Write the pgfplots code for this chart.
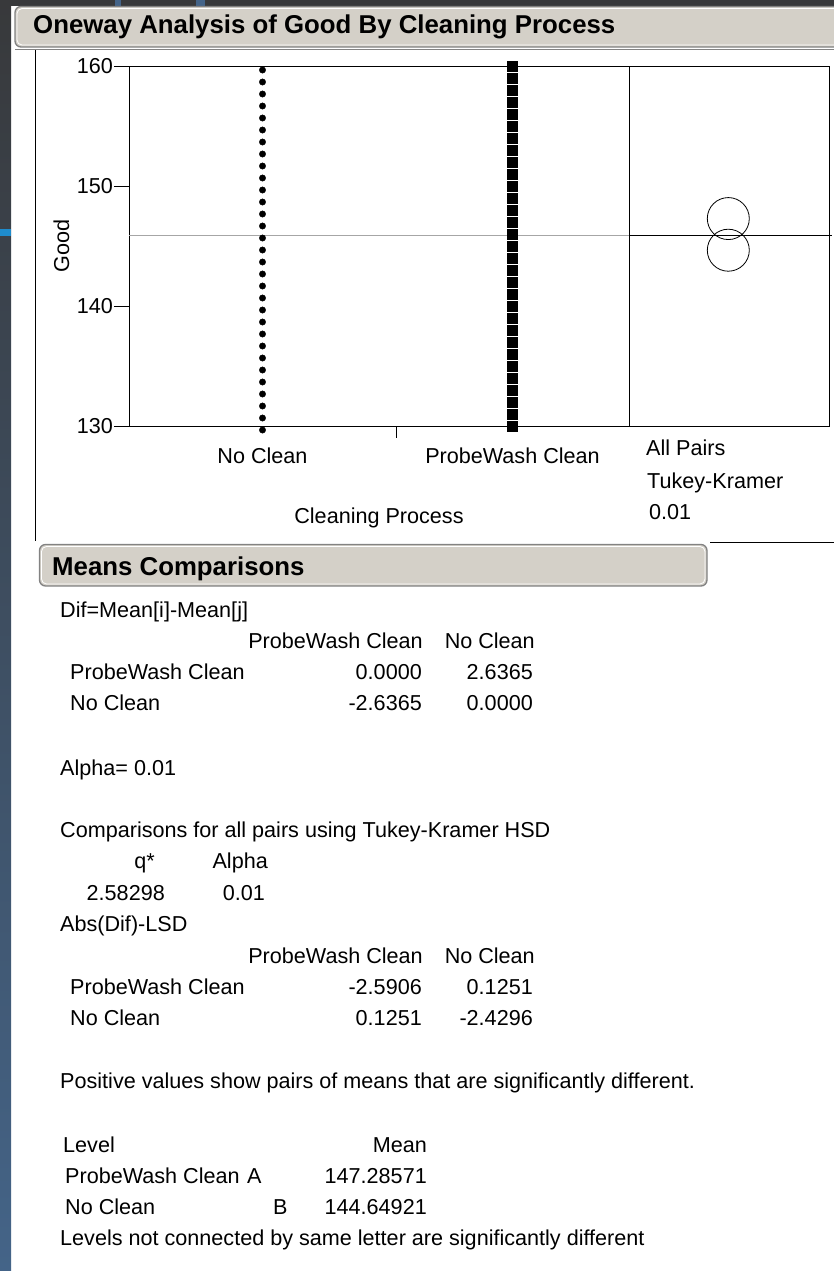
\documentclass[border=0pt]{standalone}
\usepackage{pgfplots}
\pgfplotsset{compat=1.18}
\usepackage{fontspec}
\setmainfont{Liberation Sans}
\definecolor{barfill}{RGB}{212,208,200}
\definecolor{barline}{RGB}{130,130,130}
\definecolor{darkbg}{RGB}{56,57,59}
\definecolor{bluebg}{RGB}{68,100,136}
\definecolor{brightblue}{RGB}{30,140,205}
\newcommand\tf{\fontsize{21.6bp}{26bp}\selectfont}
\newcommand\hf{\fontsize{25.8bp}{30bp}\selectfont\bfseries}
\begin{document}
\begin{tikzpicture}
\begin{scope}[x=1bp,y=-1bp]
\fill[white] (0,0) rectangle (834,1271);
\shade[top color=darkbg, bottom color=bluebg] (0,0) rectangle (11,1271);
\fill[brightblue] (0,229) rectangle (11,236);
\fill[darkbg] (0,0) rectangle (834,6);
\fill[bluebg] (115,0) rectangle (121,6);
\fill[bluebg] (196,0) rectangle (205,6);
% header bar 1
\draw[barline, fill=barfill, rounded corners=6bp, line width=1.3bp] (15,6.5) rectangle (860,47);
\draw[white, rounded corners=5bp, line width=0.8bp] (17,8.5) rectangle (860,45);
\draw[barline, line width=0.8bp] (15,49.5) -- (834,49.5);
\node[anchor=base west, inner sep=0pt, font=\hf] at (33,33.5) {Oneway Analysis of Good By Cleaning Process};
% frame lines
\draw[black, line width=1bp] (35.5,50) -- (35.5,541);
\draw[black, line width=1bp] (710,542.7) -- (834,542.7);
% right panel labels
\node[anchor=base west, inner sep=0pt, font=\tf] at (646,455) {All Pairs};
\node[anchor=base west, inner sep=0pt, font=\tf] at (647,488) {Tukey-Kramer};
\node[anchor=base west, inner sep=0pt, font=\tf] at (649,519) {0.01};
% header bar 2
\draw[barline, fill=barfill, rounded corners=6bp, line width=1.3bp] (39.5,544.5) rectangle (707,586);
\draw[white, rounded corners=5bp, line width=0.8bp] (41.5,546.5) rectangle (705,584);
\node[anchor=base west, inner sep=0pt, font=\hf] at (52,575) {Means Comparisons};
% Means comparisons text
\begin{scope}[every node/.style={inner sep=0pt, font=\tf}]
\node[anchor=base west] at (60,617.7) {Dif=Mean[i]-Mean[j]};
\node[anchor=base east] at (423,648.7) {ProbeWash Clean};
\node[anchor=base east] at (535,648.7) {No Clean};
\node[anchor=base west] at (70,679.7) {ProbeWash Clean};
\node[anchor=base east] at (422,679.7) {0.0000};
\node[anchor=base east] at (533,679.7) {2.6365};
\node[anchor=base west] at (70,710.7) {No Clean};
\node[anchor=base east] at (422,710.7) {-2.6365};
\node[anchor=base east] at (533,710.7) {0.0000};
\node[anchor=base west] at (60,775) {Alpha= 0.01};
\node[anchor=base west] at (60,837.5) {Comparisons for all pairs using Tukey-Kramer HSD};
\node[anchor=base east] at (155,868.7) {q*};
\node[anchor=base east] at (268,868.7) {Alpha};
\node[anchor=base east] at (165,900.7) {2.58298};
\node[anchor=base east] at (265,900.7) {0.01};
\node[anchor=base west] at (60,931.7) {Abs(Dif)-LSD};
\node[anchor=base east] at (423,963.7) {ProbeWash Clean};
\node[anchor=base east] at (535,963.7) {No Clean};
\node[anchor=base west] at (70,994.7) {ProbeWash Clean};
\node[anchor=base east] at (422,994.7) {-2.5906};
\node[anchor=base east] at (533,994.7) {0.1251};
\node[anchor=base west] at (70,1025.7) {No Clean};
\node[anchor=base east] at (422,1025.7) {0.1251};
\node[anchor=base east] at (533,1025.7) {-2.4296};
\node[anchor=base west] at (60,1088.7) {Positive values show pairs of means that are significantly different.};
\node[anchor=base west] at (63,1152.7) {Level};
\node[anchor=base east] at (427,1152.7) {Mean};
\node[anchor=base west] at (65,1183.7) {ProbeWash Clean};
\node[anchor=base west] at (247,1183.7) {A};
\node[anchor=base east] at (427,1183.7) {147.28571};
\node[anchor=base west] at (65,1214.7) {No Clean};
\node[anchor=base west] at (273,1214.7) {B};
\node[anchor=base east] at (427,1214.7) {144.64921};
\node[anchor=base west] at (60,1245.7) {Levels not connected by same letter are significantly different};
\end{scope}
\end{scope}

% main oneway plot
\begin{axis}[
  at={(129bp,-426bp)}, anchor=south west,
  scale only axis, width=500bp, height=360bp,
  xmin=0, xmax=500, ymin=130, ymax=160,
  clip=false,
  axis line style={line width=1bp},
  tick style={black, line width=1bp},
  tick align=outside, major tick length=15bp,
  xtick pos=bottom, ytick pos=left,
  ytick={130,140,150,160},
  xtick={133.5,383.5}, xticklabels={No Clean,ProbeWash Clean},
  xtick style={draw=none},
  ticklabel style={font=\tf},
  /pgf/number format/assume math mode=true,
  yticklabel style={inner sep=1bp},
  xticklabel style={inner sep=0pt, anchor=north, yshift=-7bp},
  xlabel={Cleaning Process}, ylabel={Good},
  label style={font=\tf},
  xlabel style={at={(axis description cs:0.5,-0.256)}, anchor=center},
  ylabel style={at={(axis description cs:-0.135,0.5)}, anchor=center},
]
\draw[black, line width=1bp] (axis cs:267,130) -- ([yshift=-12bp]axis cs:267,130);
\addplot[gray!70, line width=1bp] coordinates {(0,145.88) (500,145.88)};
\addplot[only marks, mark=*, mark size=3.2bp, black, mark options={yshift=-4bp}] coordinates {
(133.5,130) (133.5,131) (133.5,132) (133.5,133) (133.5,134) (133.5,135) (133.5,136) (133.5,137)
(133.5,138) (133.5,139) (133.5,140) (133.5,141) (133.5,142) (133.5,143) (133.5,144) (133.5,145)
(133.5,146) (133.5,147) (133.5,148) (133.5,149) (133.5,150) (133.5,151) (133.5,152) (133.5,153)
(133.5,154) (133.5,155) (133.5,156) (133.5,157) (133.5,158) (133.5,159) (133.5,160)};
\addplot[only marks, mark=square*, mark size=4.9bp, black, mark options={line width=0.4bp, rounded corners=1.5bp}] coordinates {
(383.5,130) (383.5,131) (383.5,132) (383.5,133) (383.5,134) (383.5,135) (383.5,136) (383.5,137)
(383.5,138) (383.5,139) (383.5,140) (383.5,141) (383.5,142) (383.5,143) (383.5,144) (383.5,145)
(383.5,146) (383.5,147) (383.5,148) (383.5,149) (383.5,150) (383.5,151) (383.5,152) (383.5,153)
(383.5,154) (383.5,155) (383.5,156) (383.5,157) (383.5,158) (383.5,159) (383.5,160)};
\end{axis}

% comparison circles panel
\begin{axis}[
  at={(629bp,-426bp)}, anchor=south west,
  scale only axis, width=200bp, height=360bp,
  xmin=0, xmax=200, ymin=130, ymax=160,
  xtick=\empty, ytick=\empty, clip=false,
  axis line style={line width=1bp},
]
\addplot[black, line width=1bp] coordinates {(0,145.88) (203,145.88)};
\addplot[only marks, mark=o, mark size=21bp, mark options={line width=0.8bp, black}] coordinates {(99.3,147.28571) (99.3,144.64921)};
\end{axis}
\pgfresetboundingbox
\path[use as bounding box] (0,0) rectangle (834bp,-1271bp);
\end{tikzpicture}
\end{document}
